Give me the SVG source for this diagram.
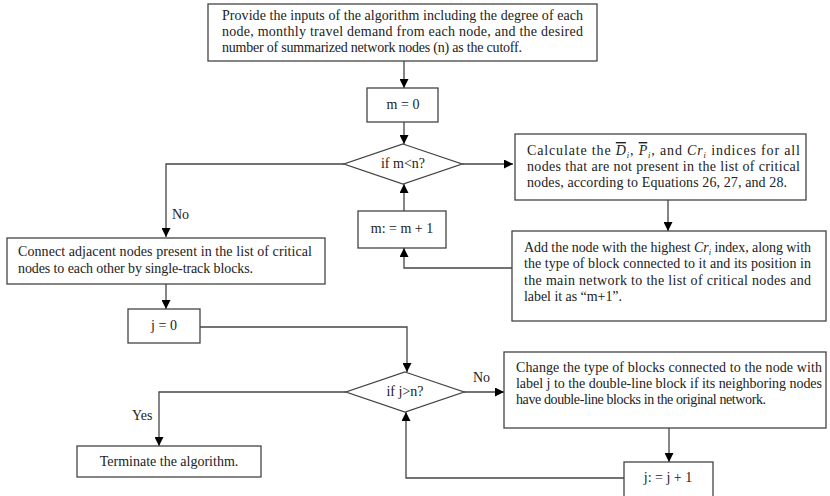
<svg xmlns="http://www.w3.org/2000/svg" width="830" height="496" viewBox="0 0 830 496">
  <defs>
    <marker id="ah" viewBox="0 0 10 10" refX="10" refY="5" markerWidth="9" markerHeight="9" markerUnits="userSpaceOnUse" orient="auto">
      <path d="M0,0 L10,5 L0,10 z" fill="#000"/>
    </marker>
    <style>
      .box { fill: #fff; stroke: #444; stroke-width: 1.3; }
      .t { font-family: "Liberation Serif", "DejaVu Serif", serif; font-size: 14px; fill: #222; }
      .c { text-anchor: middle; }
      .m { font-style: italic; }
      .bar { font-style: italic; text-decoration: overline; }
      .sub { font-size: 8.5px; font-style: italic; }
      .edge { fill: none; stroke: #444; stroke-width: 1.3; marker-end: url(#ah); }
    </style>
  </defs>

  <!-- connectors -->
  <g id="connectors">
    <path class="edge" d="M404,61 V88"/>
    <path class="edge" d="M404,122 V144"/>
    <path class="edge" d="M462,164 H513"/>
    <path class="edge" d="M344,164 H166 V237"/>
    <path class="edge" d="M668,200 V231"/>
    <path class="edge" d="M512,268 H404 V248"/>
    <path class="edge" d="M404,211 V184"/>
    <path class="edge" d="M166,284 V309"/>
    <path class="edge" d="M200,327 H407 V372"/>
    <path class="edge" d="M464,392 H504"/>
    <path class="edge" d="M346,392 H159 V446"/>
    <path class="edge" d="M669,428 V462"/>
    <path class="edge" d="M624,478 H406 V412"/>
    <text class="t" x="172" y="219">No</text>
    <text class="t" x="473" y="382">No</text>
    <text class="t" x="132" y="420">Yes</text>
  </g>

  <!-- inputs -->
  <g id="inputs">
    <rect class="box" x="208" y="4" width="389" height="57"/>
    <text class="t" x="222" y="20" textLength="361">Provide the inputs of the algorithm including the degree of each</text>
    <text class="t" x="222" y="36" textLength="361">node, monthly travel demand from each node, and the desired</text>
    <text class="t" x="222" y="52" textLength="300">number of summarized network nodes (n) as the cutoff.</text>
  </g>

  <g id="m-init">
    <rect class="box" x="367" y="88" width="71" height="34"/>
    <text class="t c" x="403" y="109">m = 0</text>
  </g>

  <g id="cond-m">
    <polygon class="box" points="403,144 462,164 403,184 344,164"/>
    <text class="t c" x="403" y="168">if m&lt;n?</text>
  </g>

  <g id="calc">
    <rect class="box" x="515" y="134" width="291" height="66"/>
    <text class="t" x="527" y="155" textLength="273">Calculate the <tspan class="bar">D</tspan><tspan class="sub" dy="3">i</tspan><tspan dy="-3">, </tspan><tspan class="bar">P</tspan><tspan class="sub" dy="3">i</tspan><tspan dy="-3">, and </tspan><tspan class="m">Cr</tspan><tspan class="sub" dy="3">i</tspan><tspan dy="-3"> indices for all</tspan></text>
    <text class="t" x="527" y="171" textLength="273">nodes that are not present in the list of critical</text>
    <text class="t" x="527" y="187" textLength="260">nodes, according to Equations 26, 27, and 28.</text>
  </g>

  <g id="add-node">
    <rect class="box" x="512" y="231" width="314" height="90"/>
    <text class="t" x="524" y="252" textLength="287">Add the node with the highest <tspan class="m">Cr</tspan><tspan class="sub" dy="3">i</tspan><tspan dy="-3"> index, along with</tspan></text>
    <text class="t" x="524" y="268" textLength="287">the type of block connected to it and its position in</text>
    <text class="t" x="524" y="285" textLength="287">the main network to the list of critical nodes and</text>
    <text class="t" x="524" y="301" textLength="98">label it as “m+1”.</text>
  </g>

  <g id="m-inc">
    <rect class="box" x="358" y="211" width="88" height="37"/>
    <text class="t c" x="402" y="233">m: = m + 1</text>
  </g>

  <g id="connect">
    <rect class="box" x="7" y="238" width="318" height="46"/>
    <text class="t" x="18" y="256" textLength="294">Connect adjacent nodes present in the list of critical</text>
    <text class="t" x="18" y="273" textLength="235">nodes to each other by single-track blocks.</text>
  </g>

  <g id="j-init">
    <rect class="box" x="128" y="309" width="72" height="34"/>
    <text class="t c" x="164" y="330">j = 0</text>
  </g>

  <g id="cond-j">
    <polygon class="box" points="405,372 464,392 405,412 346,392"/>
    <text class="t c" x="405" y="396">if j&gt;n?</text>
  </g>

  <g id="change">
    <rect class="box" x="504" y="352" width="322" height="76"/>
    <text class="t" x="516" y="372" textLength="306">Change the type of blocks connected to the node with</text>
    <text class="t" x="516" y="388" textLength="306">label j to the double-line block if its neighboring nodes</text>
    <text class="t" x="516" y="404" textLength="250">have double-line blocks in the original network.</text>
  </g>

  <g id="j-inc">
    <rect class="box" x="624" y="462" width="89" height="40"/>
    <text class="t c" x="668" y="482">j: = j + 1</text>
  </g>

  <g id="terminate">
    <rect class="box" x="77" y="446" width="184" height="31"/>
    <text class="t c" x="169" y="466">Terminate the algorithm.</text>
  </g>
</svg>
